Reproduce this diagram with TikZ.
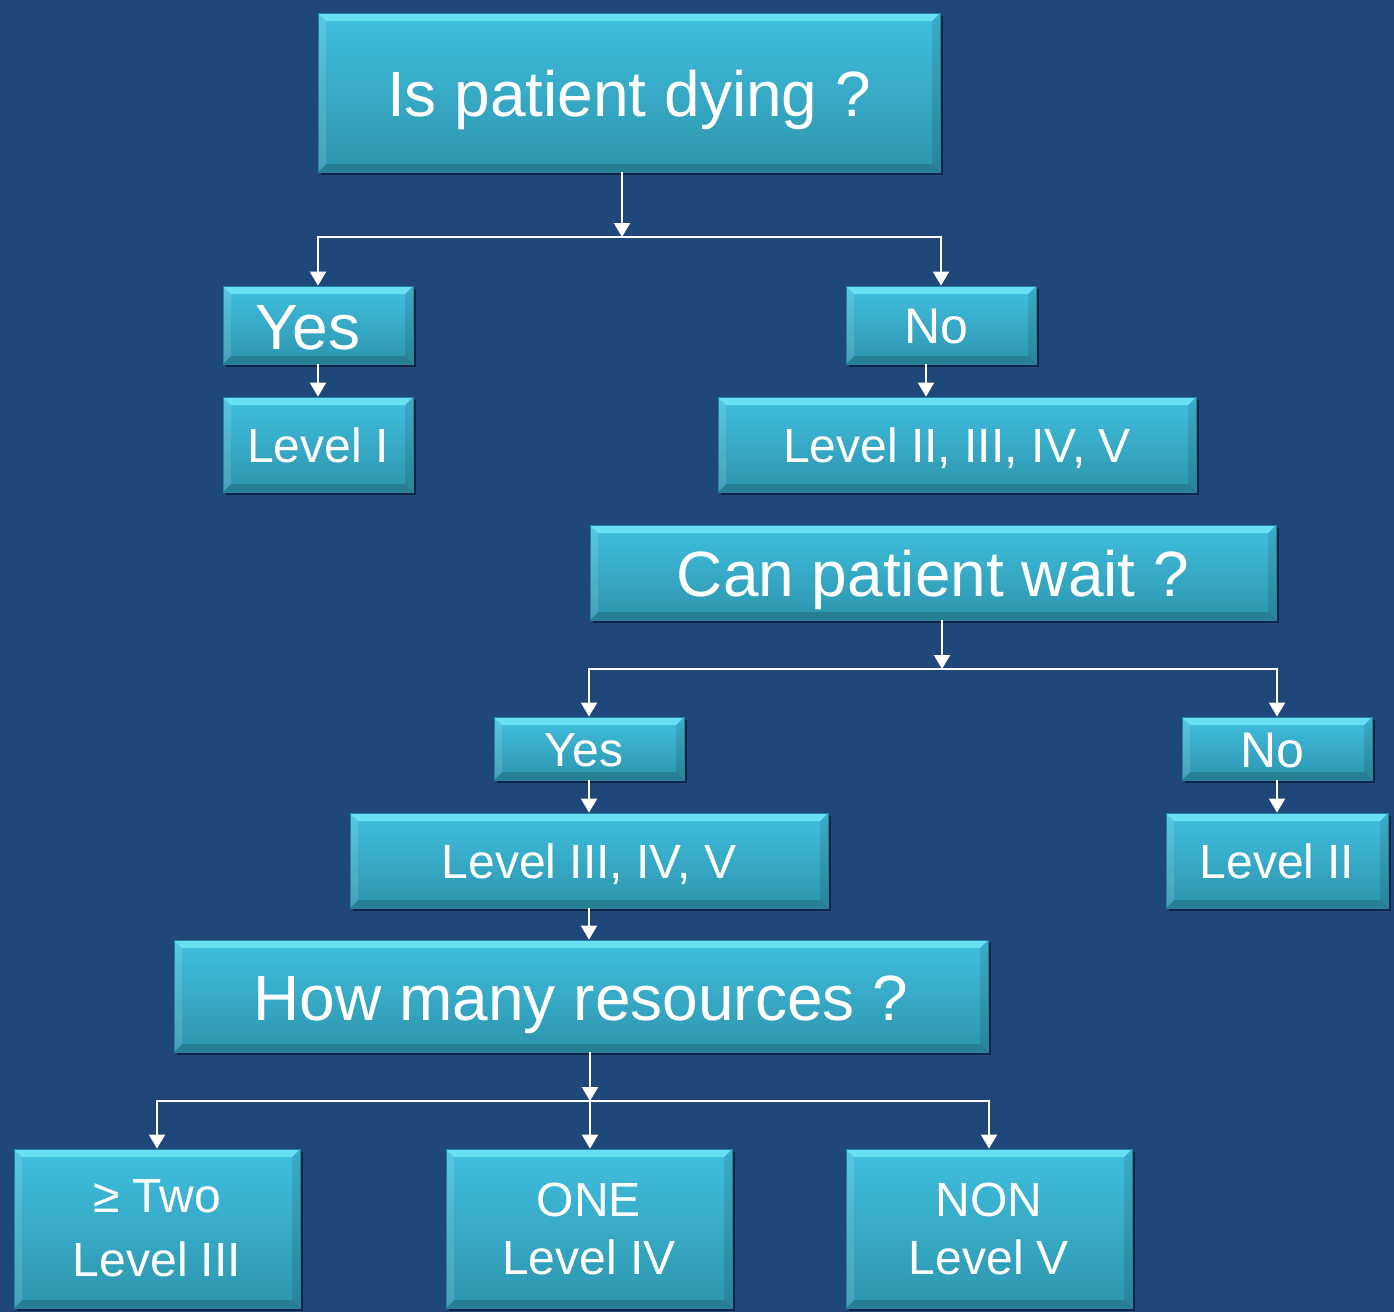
\documentclass[tikz,border=0pt]{standalone}
\usepackage{fontspec}
\setmainfont{Liberation Sans}
\usetikzlibrary{arrows.meta,shadows}
\definecolor{bgblue}{RGB}{31,71,121}
\definecolor{boxtop}{RGB}{64,192,224}
\definecolor{boxbot}{RGB}{46,148,172}
\definecolor{bevhi}{RGB}{120,235,250}
\tikzset{
  box/.style={rectangle, inner sep=0pt, top color=boxtop, bottom color=boxbot,
    draw={rgb,255:red,40;green,130;blue,155}, line width=0.4pt, text=white, align=center,
    drop shadow={shadow xshift=1.5pt, shadow yshift=-1.5pt, opacity=0.45, fill=black},
    path picture={
      \fill[bevhi, opacity=0.75] (path picture bounding box.north west) -- (path picture bounding box.north east)
        -- ([shift={(-4pt,-4pt)}]path picture bounding box.north east) -- ([shift={(4pt,-4pt)}]path picture bounding box.north west) -- cycle;
      \fill[black, opacity=0.15] (path picture bounding box.south west) -- (path picture bounding box.south east)
        -- ([shift={(-4pt,4pt)}]path picture bounding box.south east) -- ([shift={(4pt,4pt)}]path picture bounding box.south west) -- cycle;
      \fill[white, opacity=0.12] (path picture bounding box.north west) -- ([shift={(4pt,-4pt)}]path picture bounding box.north west)
        -- ([shift={(4pt,4pt)}]path picture bounding box.south west) -- (path picture bounding box.south west) -- cycle;
      \fill[black, opacity=0.10] (path picture bounding box.north east) -- ([shift={(-4pt,-4pt)}]path picture bounding box.north east)
        -- ([shift={(-4pt,4pt)}]path picture bounding box.south east) -- (path picture bounding box.south east) -- cycle;
    }},
  bigtxt/.style={font=\fontsize{32}{38}\selectfont, text height=24.2pt, text depth=0pt},
  midone/.style={font=\fontsize{24}{30}\selectfont, text height=17.8pt, text depth=0pt},
  midtxt/.style={font=\fontsize{24}{32}\selectfont},
  midtwo/.style={font=\fontsize{24}{29}\selectfont},
  notxt/.style={font=\fontsize{25}{30}\selectfont, text height=18.5pt, text depth=0pt},
  arr/.style={draw=white, line width=1pt, -{Triangle[length=7pt,width=8pt]}},
}
\begin{document}
\begin{tikzpicture}[x=0.5pt,y=-0.5pt]
\useasboundingbox[fill=bgblue] (0,0) rectangle (1394,1312);
% nodes
\node[box, bigtxt, minimum width=311pt, minimum height=79.5pt] (top) at (629,92.5) {Is patient dying ?};
\node[box, bigtxt, minimum width=95pt, minimum height=39pt] (yes1) at (318,325) {Yes\hspace*{10pt}};
\node[box, notxt, minimum width=95pt, minimum height=39pt] (no1) at (941,325) {No\hspace*{5pt}};
\node[box, midone, minimum width=95pt, minimum height=47.5pt] (lev1) at (318,444.5) {Level I};
\node[box, midone, minimum width=239pt, minimum height=47.5pt] (lev25) at (957,444.5) {Level II, III, IV, V};
\node[box, bigtxt, minimum width=343pt, minimum height=47.5pt] (wait) at (933,572.5) {Can patient wait ?};
\node[box, midone, minimum width=95pt, minimum height=31.5pt] (yes2) at (589,748.5) {Yes\hspace*{5pt}};
\node[box, notxt, minimum width=95pt, minimum height=31.5pt] (no2) at (1277,748.5) {No\hspace*{5pt}};
\node[box, midone, minimum width=239pt, minimum height=47.5pt] (lev35) at (589,860.5) {Level III, IV, V};
\node[box, midone, minimum width=111pt, minimum height=47.5pt] (lev2) at (1277,860.5) {Level II};
\node[box, bigtxt, minimum width=407pt, minimum height=56pt] (res) at (581,996) {How many resources ?};
\node[box, midtxt, minimum width=143pt, minimum height=79.5pt] (two) at (157,1228.5) {≥ Two\\Level III};
\node[box, midtwo, minimum width=143pt, minimum height=79.5pt] (one) at (589,1228.5) {ONE\\Level IV};
\node[box, midtwo, minimum width=143pt, minimum height=79.5pt] (non) at (989,1228.5) {NON\\Level V};
% junctions
\coordinate (j1) at (622,237);
\coordinate (j2) at (942,669);
\coordinate (j3) at (590,1101);
% connectors
\draw[arr] (top.south -| j1) -- (j1);
\draw[arr] (j1) -| (yes1.north);
\draw[arr] (j1) -| (no1.north);
\draw[arr] (yes1.south) -- (lev1.north);
\draw[arr] ([xshift=-7.5pt]no1.south) -- ([xshift=-7.5pt]no1.south |- lev25.north);
\draw[arr] (wait.south -| j2) -- (j2);
\draw[arr] (j2) -| (yes2.north);
\draw[arr] (j2) -| (no2.north);
\draw[arr] (yes2.south) -- (lev35.north);
\draw[arr] (no2.south) -- (lev2.north);
\draw[arr] (lev35.south) -- (lev35.south |- res.north);
\draw[arr] (res.south -| j3) -- (j3);
\draw[arr] (j3) -| (two.north);
\draw[arr] (j3) -- (j3 |- one.north);
\draw[arr] (j3) -| (non.north);
\end{tikzpicture}
\end{document}
